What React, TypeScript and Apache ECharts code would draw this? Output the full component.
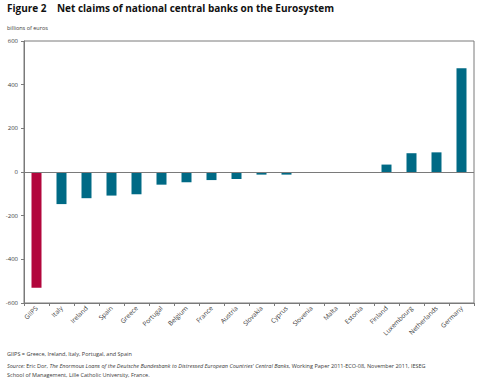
import React, { useEffect, useRef } from "react";
import * as echarts from "echarts";

const categories = [
  "GIIPS", "Italy", "Ireland", "Spain", "Greece", "Portugal", "Belgium", "France", "Austria",
  "Slovakia", "Cyprus", "Slovenia", "Malta", "Estonia", "Finland", "Luxembourg", "Netherlands", "Germany",
];
const values = [-530, -147, -120, -108, -102, -58, -47, -37, -32, -12, -12, -4, -4, 0, 34, 86, 90, 475];
const highlighted = ["GIIPS"];
const yTicks = { min: -600, max: 600, interval: 200 };

const RED = "#B2063C";
const TEAL = "#006A85";
const TEXT = "#3a3a3a";
const AXIS = "#7a7a7a";

export default function App() {
  const ref = useRef<HTMLDivElement>(null);
  useEffect(() => {
    if (!ref.current) return;
    const chart = echarts.init(ref.current, null, { renderer: "svg" });
    const font = "'Open Sans', 'Noto Sans', sans-serif";
    chart.setOption({
      animation: false,
      textStyle: { fontFamily: font },
      grid: {
        left: 24, right: 26, top: 41, bottom: 78,
        show: true, borderColor: AXIS, borderWidth: 1, backgroundColor: "transparent",
      },
      xAxis: {
        type: "category",
        data: categories,
        axisLine: { show: true, onZero: false, lineStyle: { color: AXIS, width: 1 } },
        axisTick: { show: true, length: 3, lineStyle: { color: AXIS } },
        axisLabel: { rotate: 45, fontSize: 6.5, color: TEXT, margin: 4, interval: 0, fontFamily: font },
        splitLine: { show: false },
      },
      yAxis: {
        type: "value",
        min: yTicks.min, max: yTicks.max, interval: yTicks.interval,
        axisLine: { show: true, lineStyle: { color: AXIS, width: 1 } },
        axisTick: { show: true, length: 3, lineStyle: { color: AXIS } },
        axisLabel: { fontSize: 6, color: TEXT, margin: 6, fontFamily: font },
        splitLine: { show: false },
      },
      series: [
        {
          type: "bar",
          barWidth: 10,
          data: values.map((v, i) => ({
            value: v,
            itemStyle: { color: highlighted.includes(categories[i]) ? RED : TEAL },
          })),
          markLine: {
            silent: true,
            symbol: "none",
            label: { show: false },
            lineStyle: { color: AXIS, width: 1, type: "solid" },
            data: [{ yAxis: 0 }],
          },
        },
      ],
      graphic: [
        {
          type: "text", left: 7, top: 3,
          style: {
            text: "Figure 2    Net claims of national central banks on the Eurosystem",
            font: `bold 10px ${font}`, fill: "#111",
          },
        },
        {
          type: "text", left: 7, top: 25,
          style: { text: "billions of euros", font: `5.5px ${font}`, fill: TEXT },
        },
        {
          type: "text", left: 7, top: 351,
          style: { text: "GIIPS = Greece, Ireland, Italy, Portugal, and Spain", font: `5.5px ${font}`, fill: TEXT },
        },
        {
          type: "text", left: 7, top: 361,
          style: {
            text: "{i|Source:} Eric Dor, {i|The Enormous Loans of the Deutsche Bundesbank to Distressed European Countries' Central Banks}, Working Paper 2011-ECO-08, November 2011, IESEG\nSchool of Management, Lille Catholic University, France.",
            font: `5.5px ${font}`, fill: TEXT, lineHeight: 9,
            rich: { i: { fontStyle: "italic", fontSize: 5.5, fill: TEXT, fontFamily: font, lineHeight: 9 } },
          },
        },
      ],
    });
    return () => chart.dispose();
  }, []);
  return (
    <div
      ref={ref}
      style={{ position: "fixed", left: 0, top: 0, width: 500, height: 381, background: "#fff" }}
    />
  );
}
